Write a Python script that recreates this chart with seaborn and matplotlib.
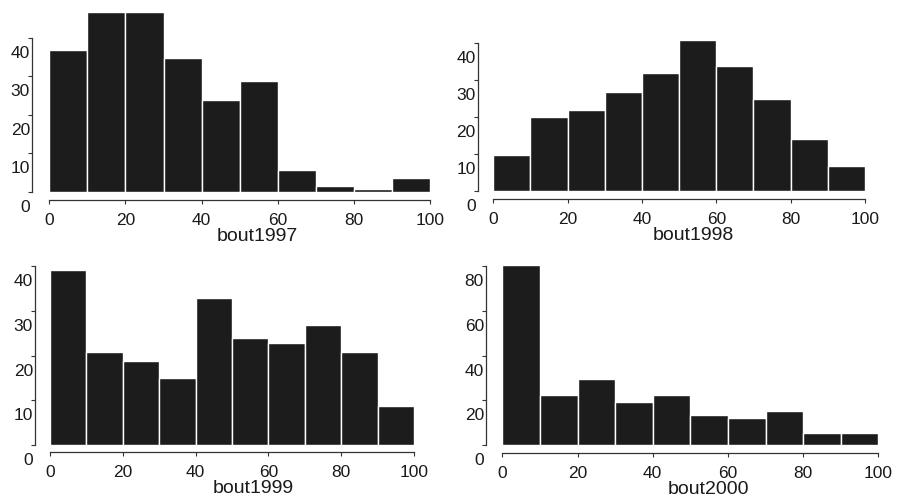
import numpy as np
import pandas as pd
import matplotlib
matplotlib.use("Agg")
import matplotlib.pyplot as plt
import seaborn as sns
from matplotlib.transforms import ScaledTranslation

# ---- data ----
bin_edges = [0, 10, 20, 30, 40, 50, 60, 70, 80, 90, 100]
bin_mids = [5, 15, 25, 35, 45, 55, 65, 75, 85, 95]
bout1997 = [36.7, 46.7, 46.7, 34.7, 23.8, 28.7, 5.6, 1.6, 0.7, 3.5]
bout1998 = [9.7, 19.9, 21.8, 26.8, 31.7, 40.7, 33.7, 24.8, 13.9, 6.8]
bout1999 = [39.2, 20.9, 18.9, 14.9, 32.8, 23.9, 22.8, 26.9, 20.9, 8.8]
bout2000 = [80.6, 22.4, 29.6, 19.4, 22.4, 13.4, 12.2, 15.4, 5.2, 5.2]
x_ticks = [0, 20, 40, 60, 80, 100]
y_ticks_small = [0, 10, 20, 30, 40]
y_ticks_large = [0, 20, 40, 60, 80]

sns.set_theme(style="white")
plt.rcParams['font.family'] = ['Liberation Sans', 'DejaVu Sans']

W, H = 901, 503
fig = plt.figure(figsize=(W / 100, H / 100), dpi=100)

bar_color = "#1c1c1c"
ink = "#1a1a1a"

panels = [
    dict(name="bout1997", values=bout1997, left=49.3, right=430, zero=192, ppu=3.858,
         ytop=48, yticks=y_ticks_small, spine_x=32, xspine=200, labx=0.546),
    dict(name="bout1998", values=bout1998, left=493.3, right=865, zero=191, ppu=3.71,
         ytop=43, yticks=y_ticks_small, spine_x=477.7, xspine=199, labx=0.537),
    dict(name="bout1999", values=bout1999, left=50, right=414, zero=445, ppu=4.467,
         ytop=41, yticks=y_ticks_small, spine_x=35, xspine=452, labx=0.558),
    dict(name="bout2000", values=bout2000, left=502.3, right=878.3, zero=445, ppu=2.233,
         ytop=82, yticks=y_ticks_large, spine_x=486, xspine=453, labx=0.547),
]

for p in panels:
    top = p['zero'] - p['ytop'] * p['ppu']
    ax = fig.add_axes([p['left'] / W, 1 - p['zero'] / H,
                       (p['right'] - p['left']) / W, (p['zero'] - top) / H])
    df = pd.DataFrame({'x': bin_mids, 'w': p['values']})
    sns.histplot(data=df, x='x', weights='w', bins=bin_edges, ax=ax,
                 color=bar_color, alpha=1, edgecolor='white', linewidth=1.0)
    ax.set_xlim(0, 100)
    ax.set_ylim(0, p['ytop'])
    for s in ['top', 'right']:
        ax.spines[s].set_visible(False)
    ax.spines['left'].set_position(('outward', (p['left'] - p['spine_x']) * 0.72))
    ax.spines['left'].set_bounds(0, p['yticks'][-1])
    ax.spines['bottom'].set_position(('outward', (p['xspine'] - p['zero']) * 0.72))
    ax.spines['bottom'].set_bounds(0, 100)
    for s in ['left', 'bottom']:
        ax.spines[s].set_color("#333333")
        ax.spines[s].set_linewidth(0.9)
    ax.set_xticks(x_ticks)
    ax.set_yticks(p['yticks'])
    ax.set_yticklabels([str(v) for v in p['yticks']])
    ax.tick_params(axis='both', left=True, bottom=True, length=3, width=0.8,
                   color="#333333", labelcolor=ink, labelsize=12.5)
    ax.tick_params(axis='y', pad=-1.5)
    ax.tick_params(axis='x', pad=6.5)
    off = ScaledTranslation(0, -0.14, fig.dpi_scale_trans)
    for lbl in ax.get_yticklabels():
        lbl.set_transform(lbl.get_transform() + off)
    ax.set_ylabel('')
    ax.set_xlabel(p['name'], fontsize=14, color=ink, labelpad=0)
    ax.xaxis.label.set_x(p['labx'])

fig.savefig("out.png", dpi=100)
